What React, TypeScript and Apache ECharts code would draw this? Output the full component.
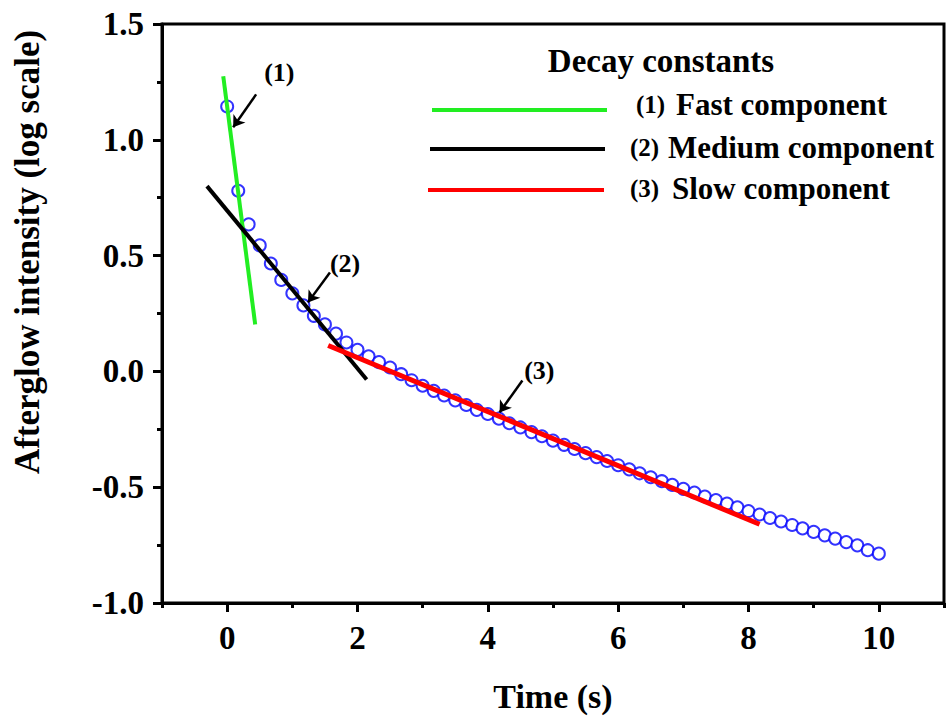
import React, { useEffect, useRef } from 'react';
import * as echarts from 'echarts';

// Measured afterglow decay (time in s, log10 intensity)
const times = [
  0, 0.17, 0.33, 0.5, 0.67, 0.83, 1, 1.17, 1.33, 1.5,
  1.67, 1.83, 2, 2.17, 2.33, 2.5, 2.67, 2.83, 3, 3.17,
  3.33, 3.5, 3.67, 3.83, 4, 4.17, 4.33, 4.5, 4.67, 4.83,
  5, 5.17, 5.33, 5.5, 5.67, 5.83, 6, 6.17, 6.33, 6.5,
  6.67, 6.83, 7, 7.17, 7.33, 7.5, 7.67, 7.83, 8, 8.17,
  8.33, 8.5, 8.67, 8.83, 9, 9.17, 9.33, 9.5, 9.67, 9.83, 10,
];
const intensity = [
  1.144, 0.78, 0.635, 0.544, 0.466, 0.395, 0.337, 0.285, 0.24, 0.203,
  0.163, 0.125, 0.093, 0.065, 0.04, 0.017, -0.012, -0.038, -0.062, -0.084,
  -0.104, -0.125, -0.145, -0.166, -0.184, -0.204, -0.224, -0.242, -0.262, -0.28,
  -0.299, -0.317, -0.335, -0.353, -0.37, -0.387, -0.405, -0.423, -0.44, -0.457,
  -0.474, -0.49, -0.507, -0.523, -0.54, -0.556, -0.571, -0.587, -0.603, -0.618,
  -0.633, -0.648, -0.663, -0.678, -0.693, -0.708, -0.722, -0.737, -0.751, -0.772, -0.787,
];

// Linear fits (endpoints)
const fastFit = [[-0.06, 1.274], [0.43, 0.203]];
const mediumFit = [[-0.31, 0.8], [2.14, -0.035]];
const slowFit = [[1.55, 0.112], [8.17, -0.66]];

// Annotations
const annotationLabels = ['(1)', '(2)', '(3)'];
const annotationPos = [[0.8, 1.29], [1.81, 0.466], [4.79, 0.004]];
const arrowStarts = [[0.444, 1.196], [1.577, 0.427], [4.53, -0.039]];
const arrowEnds = [[0.092, 1.054], [1.24, 0.298], [4.18, -0.177]];

// Axes
const xMajorTicks = [0, 2, 4, 6, 8, 10];
const xMinorTicks = [-1, 1, 3, 5, 7, 9, 11];

// Legend
const legendTitle = 'Decay constants';
const legendNumbers = ['(1)', '(2)', '(3)'];
const legendNames = ['Fast component', 'Medium component', 'Slow component'];

const FONT = '"Liberation Serif", "Times New Roman", serif';
const GREEN = '#22ee22';
const BLACK = '#000000';
const RED = '#ff0000';
const BLUE = '#0000ff';

export default function App() {
  const ref = useRef<HTMLDivElement>(null);

  useEffect(() => {
    if (!ref.current) return;
    const chart = echarts.init(ref.current, null, { renderer: 'svg' });

    const legendColors = [GREEN, BLACK, RED];
    const legendRows = [
      { lineX: [432, 607], y: 110, numX: 636, numY: 104, nameX: 676, nameY: 104 },
      { lineX: [430, 605], y: 149, numX: 630, numY: 147, nameX: 668, nameY: 147 },
      { lineX: [428, 604], y: 190, numX: 630, numY: 188, nameX: 672, nameY: 188 },
    ];
    const graphic: any[] = [
      {
        type: 'text',
        x: 27,
        y: 252,
        rotation: Math.PI / 2,
        style: {
          text: 'Afterglow intensity (log scale)',
          font: `bold 35px ${FONT}`,
          fill: '#000',
          align: 'center',
          verticalAlign: 'middle',
        },
      },
      {
        type: 'text',
        x: 661,
        y: 61,
        style: {
          text: legendTitle,
          font: `bold 33px ${FONT}`,
          fill: '#000',
          align: 'center',
          verticalAlign: 'middle',
        },
      },
    ];
    legendRows.forEach((r, i) => {
      graphic.push({
        type: 'line',
        shape: { x1: r.lineX[0], y1: r.y, x2: r.lineX[1], y2: r.y },
        style: { stroke: legendColors[i], lineWidth: 4 },
      });
      graphic.push({
        type: 'text',
        x: r.numX,
        y: r.numY,
        style: {
          text: legendNumbers[i],
          font: `bold 25px ${FONT}`,
          fill: '#000',
          align: 'left',
          verticalAlign: 'middle',
        },
      });
      graphic.push({
        type: 'text',
        x: r.nameX,
        y: r.nameY,
        style: {
          text: legendNames[i],
          font: `bold 31px ${FONT}`,
          fill: '#000',
          align: 'left',
          verticalAlign: 'middle',
        },
      });
    });

    const option: any = {
      animation: false,
      backgroundColor: '#ffffff',
      grid: {
        left: 162,
        right: 4,
        top: 24,
        bottom: 119,
        containLabel: false,
        outerBoundsMode: 'none',
        show: true,
        borderColor: '#000',
        borderWidth: 3,
        backgroundColor: 'transparent',
      },
      xAxis: [
        {
          type: 'value',
          min: -1,
          max: 11,
          position: 'bottom',
          name: 'Time (s)',
          nameLocation: 'middle',
          nameGap: 76,
          nameTextStyle: {
            fontFamily: FONT,
            fontWeight: 'bold',
            fontSize: 34,
            color: '#000',
          },
          splitLine: { show: false },
          axisLine: { show: true, onZero: false, lineStyle: { color: '#000', width: 3 } },
          axisTick: {
            show: true,
            inside: false,
            length: 9,
            customValues: xMajorTicks,
            lineStyle: { color: '#000', width: 3 },
          },
          axisLabel: {
            show: true,
            customValues: xMajorTicks,
            margin: 18,
            fontFamily: FONT,
            fontWeight: 'bold',
            fontSize: 33,
            color: '#000',
          },
        },
        {
          type: 'value',
          min: -1,
          max: 11,
          position: 'bottom',
          splitLine: { show: false },
          axisLine: { show: false, onZero: false },
          axisTick: {
            show: true,
            inside: false,
            length: 5,
            customValues: xMinorTicks,
            lineStyle: { color: '#000', width: 3 },
          },
          axisLabel: { show: false },
        },
      ],
      yAxis: {
        type: 'value',
        min: -1,
        max: 1.5,
        interval: 0.5,
        splitLine: { show: false },
        axisLine: { show: true, onZero: false, lineStyle: { color: '#000', width: 3 } },
        axisTick: { show: true, inside: false, length: 9, lineStyle: { color: '#000', width: 3 } },
        minorTick: { show: true, splitNumber: 2, length: 5, lineStyle: { color: '#000', width: 3 } },
        minorSplitLine: { show: false },
        axisLabel: {
          margin: 18,
          fontFamily: FONT,
          fontWeight: 'bold',
          fontSize: 33,
          color: '#000',
          formatter: (v: number) => v.toFixed(1),
        },
      },
      series: [
        {
          name: 'Afterglow data',
          type: 'scatter',
          xAxisIndex: 0,
          data: times.map((t, i) => [t, intensity[i]]),
          symbol: 'emptyCircle',
          symbolSize: 12,
          itemStyle: { color: BLUE, borderColor: BLUE, borderWidth: 1 },
          z: 2,
        },
        {
          name: 'Fast component',
          type: 'line',
          xAxisIndex: 0,
          data: fastFit,
          symbol: 'none',
          lineStyle: { color: GREEN, width: 4 },
          z: 3,
        },
        {
          name: 'Medium component',
          type: 'line',
          xAxisIndex: 0,
          data: mediumFit,
          symbol: 'none',
          lineStyle: { color: BLACK, width: 4 },
          z: 3,
        },
        {
          name: 'Slow component',
          type: 'line',
          xAxisIndex: 0,
          data: slowFit,
          symbol: 'none',
          lineStyle: { color: RED, width: 5 },
          z: 3,
        },
        {
          name: 'Arrows',
          type: 'lines',
          coordinateSystem: 'cartesian2d',
          xAxisIndex: 0,
          data: arrowStarts.map((s, i) => ({ coords: [s, arrowEnds[i]] })),
          symbol: ['none', 'arrow'],
          symbolSize: 11,
          lineStyle: { color: BLACK, width: 2.5, opacity: 1 },
          z: 4,
        },
        {
          name: 'Labels',
          type: 'scatter',
          xAxisIndex: 0,
          data: annotationPos.map((p, i) => ({ value: p, name: annotationLabels[i] })),
          symbol: 'circle',
          symbolSize: 2,
          itemStyle: { color: 'rgba(255,255,255,0)' },
          label: {
            show: true,
            position: 'inside',
            formatter: '{b}',
            fontFamily: FONT,
            fontWeight: 'bold',
            fontSize: 26,
            color: '#000',
            opacity: 1,
          },
          z: 4,
        },
      ],
      graphic,
    };

    chart.setOption(option);
    return () => chart.dispose();
  }, []);

  return (
    <div
      ref={ref}
      style={{ position: 'fixed', left: 0, top: 0, width: 948, height: 722, background: '#fff' }}
    />
  );
}
